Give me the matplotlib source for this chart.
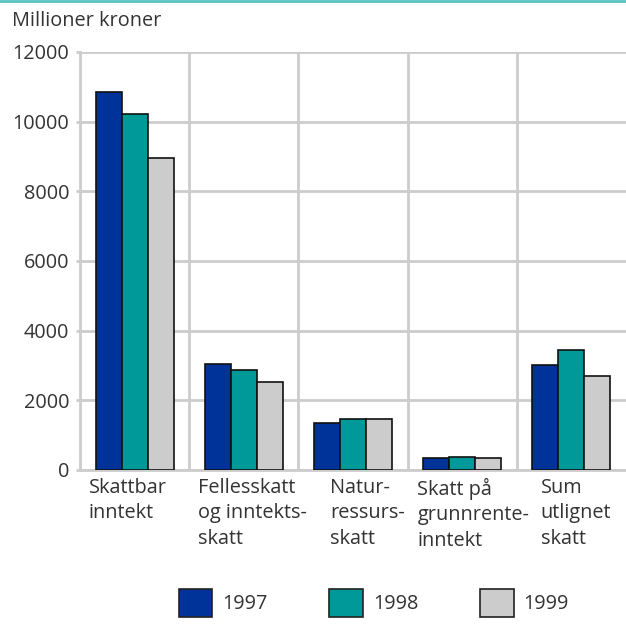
import numpy as np
import matplotlib.pyplot as plt
from matplotlib.patches import Patch

plt.rcParams['font.family'] = ['Open Sans', 'DejaVu Sans']

categories = ['Skattbar\ninntekt', 'Fellesskatt\nog inntekts-\nskatt', 'Natur-\nressurs-\nskatt',
              'Skatt på\ngrunnrente-\ninntekt', 'Sum\nutlignet\nskatt']
years = ['1997', '1998', '1999']
v1997 = [10850, 3040, 1350, 345, 3010]
v1998 = [10220, 2870, 1465, 370, 3440]
v1999 = [8950, 2525, 1465, 345, 2700]
colors = ['#003399', '#009999', '#cccccc']

# left offset of each category label from the category's left edge (fraction)
label_off = [0.08, 0.08, 0.29, 0.09, 0.22]

fs = 14.3
txt = '#333333'

fig = plt.figure(figsize=(6.26, 6.28), dpi=100)
ax = fig.add_axes([0.128, 0.2516, 0.872, 0.6656])

x = np.arange(len(categories))
w = 0.238
for k, vals in enumerate([v1997, v1998, v1999]):
    ax.bar(x + (k - 1) * w, vals, w, color=colors[k], edgecolor='#111111',
           linewidth=1.2, zorder=3)

ax.set_xlim(-0.5, len(categories) - 0.5)
ax.set_ylim(0, 12000)
ax.set_yticks(np.arange(0, 12001, 2000))
ax.set_xticks(x)
ax.set_xticks(x[:-1] + 0.5, minor=True)
ax.set_xticklabels([])
ax.grid(True, axis='y', color='#cccccc', linewidth=2, zorder=0)
ax.grid(True, axis='x', which='minor', color='#cccccc', linewidth=2, zorder=0)
for s in ['top', 'right']:
    ax.spines[s].set_visible(False)
for s in ['left', 'bottom']:
    ax.spines[s].set_color('#cccccc')
    ax.spines[s].set_linewidth(2)
ax.tick_params(axis='y', length=3, color='#cccccc', width=2, labelsize=fs,
               labelcolor=txt, pad=5)
ax.tick_params(axis='x', which='both', length=0)

for i, lab in enumerate(categories):
    ax.text(i - 0.5 + label_off[i], -0.018, lab, transform=ax.get_xaxis_transform(),
            ha='left', va='top', fontsize=fs, color=txt, linespacing=1.38)

fig.text(0.019, 0.967, 'Millioner kroner', ha='left', va='center',
         fontsize=fs, color=txt)
fig.add_artist(plt.Line2D([0, 1], [0.999, 0.999], color='#5bc2c2', linewidth=2,
                          transform=fig.transFigure))

handles = [Patch(facecolor=c, edgecolor='#222222', linewidth=1.2) for c in colors]
fig.legend(handles, years, loc='center', bbox_to_anchor=(0.597, 0.04), ncol=3,
           frameon=False, fontsize=fs, handlelength=1.7, handleheight=1.85,
           handletextpad=0.5, columnspacing=3.1, labelcolor=txt)

fig.savefig('out.png', dpi=100)
